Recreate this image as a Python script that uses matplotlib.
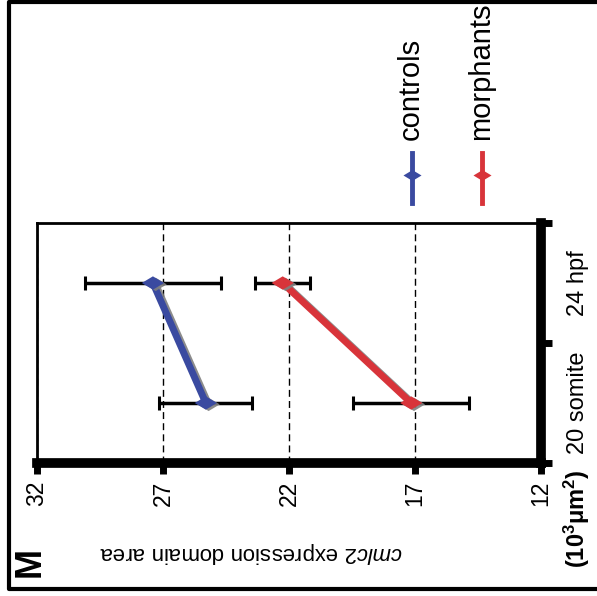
import numpy as np
import matplotlib
matplotlib.use('Agg')
import matplotlib.pyplot as plt
import matplotlib.patheffects as pe
from matplotlib.lines import Line2D

plt.rcParams['font.family'] = ['Liberation Sans', 'DejaVu Sans']
plt.rcParams['mathtext.fontset'] = 'custom'
plt.rcParams['mathtext.rm'] = 'Liberation Sans'
plt.rcParams['mathtext.it'] = 'Liberation Sans:italic'
plt.rcParams['mathtext.bf'] = 'Liberation Sans:bold'

# datos (grafico girado 90 grados)
stages = ['20 somite', '24 hpf']
controls_mean = [25.3, 27.4]
controls_err = [1.85, 2.7]
morphants_mean = [17.15, 22.25]
morphants_err = [2.3, 1.1]
value_ticks = [32, 27, 22, 17, 12]
series_names = ['controls', 'morphants']

BLUE = '#3a4aa0'
RED = '#d8343a'
W, H = 597, 596


def fx(x):
    return x / W


def fy(y):
    return 1 - y / H


fig = plt.figure(figsize=(W / 100, H / 100), dpi=100)
ax = fig.add_axes([fx(37), fy(463), (541 - 37) / W, (463 - 223) / H])

pos = np.arange(len(stages)) + 0.5
diamond = [(-1, 0), (0, 0.6), (1, 0), (0, -0.6), (-1, 0)]

for mean, err, c in [(controls_mean, controls_err, BLUE),
                     (morphants_mean, morphants_err, RED)]:
    ax.errorbar(mean, pos, xerr=err, fmt='none', ecolor='black',
                elinewidth=2.5, capsize=4.7, capthick=2.2, zorder=3)
    ax.plot(mean, pos, color=c, lw=5, solid_capstyle='round', zorder=4,
            path_effects=[pe.SimpleLineShadow(offset=(2, -1), shadow_color='gray', alpha=0.9),
                          pe.Normal()])
    ax.plot(mean, pos, ls='none', marker=diamond, ms=16, color=c, mew=0, zorder=5,
            path_effects=[pe.SimplePatchShadow(offset=(2, -1), shadow_rgbFace='gray', alpha=0.9),
                          pe.Normal()])

ax.set_xlim(32, 12)
ax.set_ylim(0, 2)
ax.set_xticks(value_ticks)
ax.grid(axis='x', color='black', lw=1, linestyle=(0, (5, 3)))
ax.set_axisbelow(True)

for s in ['left', 'top']:
    ax.spines[s].set_linewidth(2)
for s in ['bottom', 'right']:
    ax.spines[s].set_linewidth(7)
    ax.spines[s].set_capstyle('projecting')

ax.tick_params(axis='x', direction='out', length=8, width=5, labelsize=16.5,
               labelrotation=90, pad=5)
ax.yaxis.tick_right()
ax.set_yticks([0, 1, 2])
ax.set_yticklabels([])
ax.set_yticks(pos, minor=True)
ax.set_yticklabels(stages, minor=True)
ax.tick_params(axis='y', which='major', direction='out', length=8, width=5)
ax.tick_params(axis='y', which='minor', length=0, labelsize=17, pad=19)
for lab in ax.get_yticklabels(minor=True):
    lab.set_rotation(90)
    lab.set_rotation_mode('default')
    lab.set_va('center')
    lab.set_ha('left')

# textos
fig.text(fx(251), fy(553), r'$\mathit{cmlc2}$ expression domain area', rotation=180,
         ha='center', va='center', fontsize=16)
fig.text(fx(577), fy(519), r'(10$^\mathbf{3}$μm$^\mathbf{2}$)', rotation=90,
         ha='center', va='center', fontsize=17, fontweight='bold')
fig.text(fx(30), fy(562), 'M', rotation=90, ha='center', va='center',
         fontsize=26, fontweight='bold')

# leyenda
for name, c, x in zip(series_names, [BLUE, RED], [412, 482]):
    fig.add_artist(Line2D([fx(x), fx(x)], [fy(153), fy(203)], color=c, lw=3.5,
                          transform=fig.transFigure))
    fig.add_artist(Line2D([fx(x)], [fy(175)], marker=diamond, ms=13, color=c, mew=0,
                          transform=fig.transFigure))
    fig.text(fx(x + 7), fy(140), name, rotation=90, rotation_mode='anchor',
             ha='left', va='baseline', fontsize=21)

# borde exterior
fig.add_artist(Line2D([1, fx(9), fx(9), 1], [fy(2), fy(2), fy(589), fy(589)],
                      color='black', lw=3, transform=fig.transFigure))

fig.savefig('out.png', dpi=100)
